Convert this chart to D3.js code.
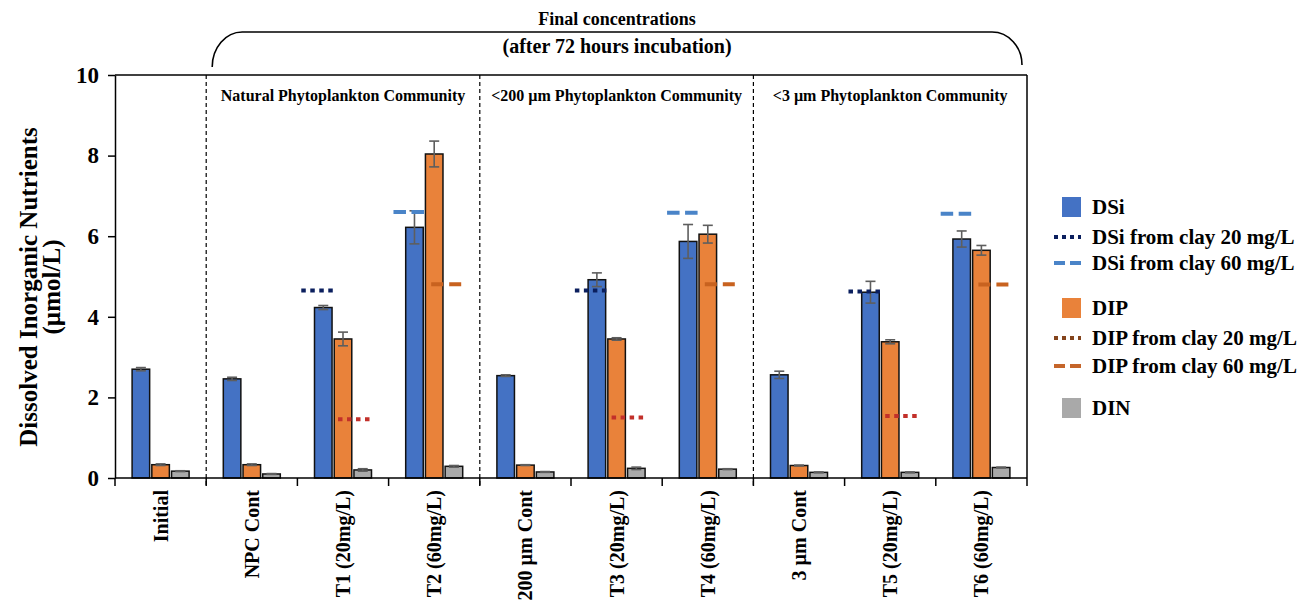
<!DOCTYPE html>
<html>
<head>
<meta charset="utf-8">
<script src="https://cdn.jsdelivr.net/npm/d3@7"></script>
<style>
  body { margin: 0; background: #fff; }
  svg { display: block; }
  text { font-family: "Liberation Serif", "Times New Roman", serif; font-weight: bold; fill: #000; }
</style>
</head>
<body>
<svg id="chart" width="1309" height="615"></svg>
<script>
// ---------- data ----------
const categories = ["Initial", "NPC Cont", "T1 (20mg/L)", "T2 (60mg/L)", "200 µm Cont",
  "T3 (20mg/L)", "T4 (60mg/L)", "3 µm Cont", "T5 (20mg/L)", "T6 (60mg/L)"];
const seriesNames = ["DSi", "DIP", "DIN"];
const dsi    = [2.70, 2.46, 4.23, 6.22, 2.54, 4.92, 5.87, 2.56, 4.61, 5.93];
const dsiErr = [0.04, 0.04, 0.05, 0.41, 0.02, 0.17, 0.42, 0.09, 0.27, 0.20];
const dip    = [0.33, 0.33, 3.45, 8.04, 0.32, 3.45, 6.05, 0.31, 3.38, 5.65];
const dipErr = [0.02, 0.02, 0.17, 0.32, 0.01, 0.03, 0.22, 0.01, 0.05, 0.12];
const din    = [0.17, 0.10, 0.20, 0.29, 0.15, 0.24, 0.22, 0.14, 0.14, 0.26];
const dinErr = [0.01, 0.01, 0.03, 0.02, 0.01, 0.03, 0.01, 0.01, 0.01, 0.01];

const clay20Cats = ["T1 (20mg/L)", "T3 (20mg/L)", "T5 (20mg/L)"];
const dsiClay20  = [4.65, 4.65, 4.63];
const dipClay20  = [1.46, 1.50, 1.54];
const clay60Cats = ["T2 (60mg/L)", "T4 (60mg/L)", "T6 (60mg/L)"];
const dsiClay60  = [6.60, 6.58, 6.56];
const dipClay60  = [4.81, 4.81, 4.80];

const sectionLabels = ["Natural Phytoplankton Community", "<200 µm Phytoplankton Community", "<3 µm Phytoplankton Community"];
const sectionStarts = ["NPC Cont", "200 µm Cont", "3 µm Cont"];
const sectionEnds   = ["T2 (60mg/L)", "T4 (60mg/L)", "T6 (60mg/L)"];
const yTicks = [0, 2, 4, 6, 8, 10];
const titleLines = ["Final concentrations", "(after 72 hours incubation)"];
const yTitleLines = ["Dissolved Inorganic Nutrients", "(µmol/L)"];
const legendItems = [
  {label: "DSi", type: "rect", key: "DSi"},
  {label: "DSi from clay 20 mg/L", type: "dot", key: "dsi20"},
  {label: "DSi from clay 60 mg/L", type: "dash", key: "dsi60"},
  {label: "DIP", type: "rect", key: "DIP"},
  {label: "DIP from clay 20 mg/L", type: "dot", key: "dip20"},
  {label: "DIP from clay 60 mg/L", type: "dash", key: "dip60"},
  {label: "DIN", type: "rect", key: "DIN"}
];

// ---------- styles ----------
const fill = {DSi: "#4472C4", DIP: "#E9823A", DIN: "#A9A9A9"};
const lineColor = {dsi20: "#0B1F5E", dsi60: "#4A84C8", dip20: "#C2302A", dip60: "#C8621F"};
const legendLineColor = {dsi20: "#0B1F5E", dsi60: "#4A84C8", dip20: "#84441C", dip60: "#C5652A"};

const svg = d3.select("#chart");
const pLeft = 115, pRight = 1027, pTop = 75, pBottom = 478;

const x0 = d3.scaleBand().domain(categories).range([pLeft, pRight]).padding(0);
const groupW = 57;
const x1 = d3.scaleBand().domain(seriesNames).range([0, groupW]).paddingInner(0.11);
const y = d3.scaleLinear().domain([0, 10]).range([pBottom, pTop]);
const gx = c => x0(c) + (x0.bandwidth() - groupW) / 2;
const cx = (c, s) => gx(c) + x1(s) + x1.bandwidth() / 2;

// frame
svg.append("line").attr("x1", pLeft).attr("x2", pRight).attr("y1", pTop).attr("y2", pTop)
  .attr("stroke", "#000").attr("stroke-width", 1.5);
svg.append("line").attr("x1", pRight).attr("x2", pRight).attr("y1", pTop).attr("y2", pBottom)
  .attr("stroke", "#000").attr("stroke-width", 1.5);

// section dividers
sectionStarts.forEach(c => {
  svg.append("line").attr("x1", x0(c)).attr("x2", x0(c)).attr("y1", pTop).attr("y2", pBottom + 8)
    .attr("stroke", "#000").attr("stroke-width", 1.2).attr("stroke-dasharray", "4,3");
});

// section headers
sectionLabels.forEach((lab, i) => {
  const xa = x0(sectionStarts[i]), xb = x0(sectionEnds[i]) + x0.bandwidth();
  svg.append("text").attr("x", (xa + xb) / 2).attr("y", 101).attr("text-anchor", "middle")
    .style("font-size", "16px").text(lab);
});

// bars
const seriesData = {DSi: [dsi, dsiErr], DIP: [dip, dipErr], DIN: [din, dinErr]};
seriesNames.forEach(s => {
  const vals = seriesData[s][0];
  svg.append("g").selectAll("rect").data(categories).join("rect")
    .attr("x", c => gx(c) + x1(s))
    .attr("width", x1.bandwidth())
    .attr("y", (c, i) => y(vals[i]))
    .attr("height", (c, i) => y(0) - y(vals[i]))
    .attr("fill", fill[s]).attr("stroke", "#111").attr("stroke-width", 1.5);
});
// error bars
seriesNames.forEach(s => {
  const [vals, errs] = seriesData[s];
  const g = svg.append("g").attr("stroke", "#5E5E5E").attr("stroke-width", 1.6);
  categories.forEach((c, i) => {
    const xc = cx(c, s);
    const y1 = y(vals[i] + errs[i]), y2 = y(vals[i] - errs[i]);
    g.append("line").attr("x1", xc).attr("x2", xc).attr("y1", y1).attr("y2", y2);
    g.append("line").attr("x1", xc - 5).attr("x2", xc + 5).attr("y1", y1).attr("y2", y1);
    g.append("line").attr("x1", xc - 5).attr("x2", xc + 5).attr("y1", y2).attr("y2", y2);
  });
});

// clay reference lines
function refLines(cats, vals, series, dx1, dx2, color, dash, offset) {
  svg.append("g").selectAll("line").data(cats).join("line")
    .attr("x1", c => cx(c, series) + dx1).attr("x2", c => cx(c, series) + dx2)
    .attr("y1", (c, i) => y(vals[i])).attr("y2", (c, i) => y(vals[i]))
    .attr("stroke", color).attr("stroke-width", 4)
    .attr("stroke-dasharray", dash).attr("stroke-dashoffset", offset || 0);
}
refLines(clay20Cats, dsiClay20, "DSi", -22, 10, lineColor.dsi20, "4.5,4.5");
refLines(clay60Cats, dsiClay60, "DSi", -21, 10, lineColor.dsi60, "12.5,5.5");
refLines(clay20Cats, dipClay20, "DIP", -5, 27, lineColor.dip20, "4.5,4.5");
refLines(clay60Cats, dipClay60, "DIP", -7, 32, lineColor.dip60, "12,6", 14);

// y axis
const yAxis = d3.axisLeft(y).tickValues(yTicks).tickSize(7).tickPadding(9).tickSizeOuter(0);
const ya = svg.append("g").attr("transform", `translate(${pLeft},0)`).call(yAxis);
ya.attr("font-family", null).attr("font-size", null);
ya.select(".domain").attr("stroke", "#000").attr("stroke-width", 1.5);
ya.selectAll(".tick line").attr("stroke", "#000").attr("stroke-width", 1.5);
ya.selectAll(".tick text").style("font-size", "23px");

// x axis
svg.append("line").attr("x1", pLeft).attr("x2", pRight).attr("y1", pBottom).attr("y2", pBottom)
  .attr("stroke", "#000").attr("stroke-width", 1.5);
const bounds = categories.map(c => x0(c)).concat([x0(categories[categories.length - 1]) + x0.bandwidth()]);
svg.append("g").selectAll("line").data(bounds).join("line")
  .attr("x1", d => d).attr("x2", d => d).attr("y1", pBottom).attr("y2", pBottom + 8)
  .attr("stroke", "#000").attr("stroke-width", 1.5);
svg.append("g").selectAll("text").data(categories).join("text")
  .attr("transform", c => `translate(${x0(c) + x0.bandwidth() / 2},490) rotate(-90)`)
  .attr("text-anchor", "end").attr("dy", "0.35em")
  .style("font-size", "20px").text(c => c);

// y title
yTitleLines.forEach((t, i) => {
  svg.append("text").attr("transform", `translate(${37 + i * 23},287) rotate(-90)`)
    .attr("text-anchor", "middle").style("font-size", "25px").text(t);
});

// top title + brace
const bx1 = x0(sectionStarts[0]) + 6, bx2 = pRight - 5;
svg.append("path")
  .attr("d", `M${bx1},67 A30,35 0 0 1 ${bx1 + 30},32 L${bx2 - 30},32 A30,33 0 0 1 ${bx2},65`)
  .attr("fill", "none").attr("stroke", "#000").attr("stroke-width", 1.6);
const tc = (bx1 + bx2) / 2;
svg.append("text").attr("x", tc).attr("y", 25).attr("text-anchor", "middle")
  .style("font-size", "18px").text(titleLines[0]);
svg.append("text").attr("x", tc).attr("y", 53).attr("text-anchor", "middle")
  .style("font-size", "20px").text(titleLines[1]);

// legend
const legendY = [207, 237, 263, 308, 338, 366, 408];
const lg = svg.append("g");
legendItems.forEach((it, i) => {
  const cyy = legendY[i];
  if (it.type === "rect") {
    lg.append("rect").attr("x", 1062).attr("y", cyy - 10).attr("width", 19).attr("height", 20)
      .attr("fill", fill[it.key]);
  } else {
    lg.append("line").attr("x1", 1054).attr("x2", 1081)
      .attr("y1", cyy).attr("y2", cyy)
      .attr("stroke", legendLineColor[it.key]).attr("stroke-width", 4)
      .attr("stroke-dasharray", it.type === "dot" ? "4,4" : "11,5");
  }
  lg.append("text").attr("x", 1092).attr("y", cyy + 7).style("font-size", "21px").text(it.label);
});
</script>
</body>
</html>
